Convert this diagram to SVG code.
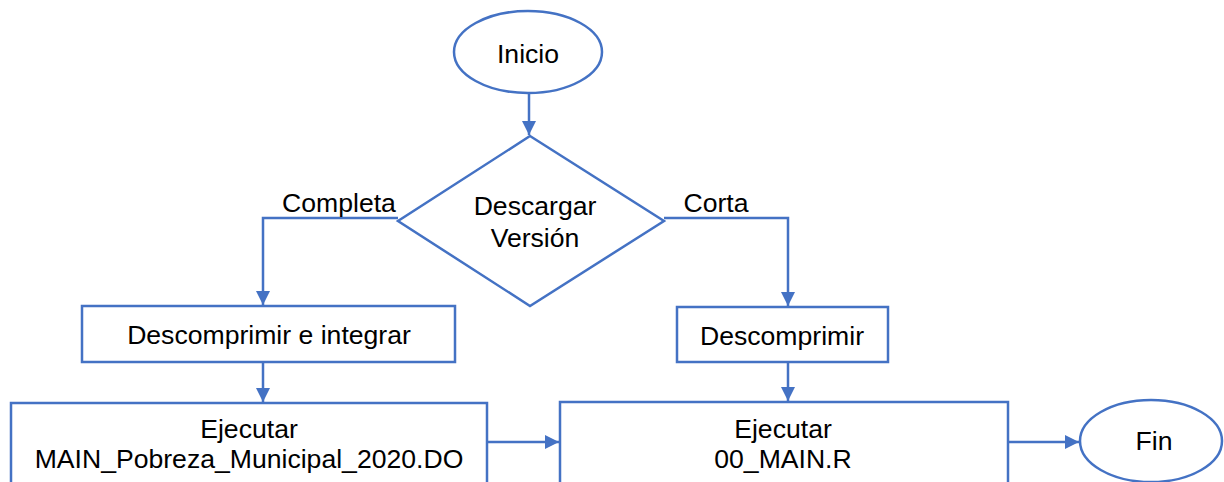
<svg xmlns="http://www.w3.org/2000/svg" width="1224" height="482" viewBox="0 0 1224 482">
<style>
.s{fill:#fff;stroke:#4472C4;stroke-width:2.5}
.c{fill:none;stroke:#4472C4;stroke-width:2.5}
text{font-family:"Liberation Sans",Arial,sans-serif;font-size:26.6px;fill:#000}
.m{text-anchor:middle}
</style>
<defs>
<marker id="ah" viewBox="0 0 10 10" refX="10" refY="5" markerWidth="14" markerHeight="14" markerUnits="userSpaceOnUse" orient="auto">
<path d="M0,0 L10,5 L0,10 Z" fill="#4472C4"/>
</marker>
</defs>
<rect width="1224" height="482" fill="#fff"/>
<g id="connectors">
<path class="c" d="M529,93 L529,135" marker-end="url(#ah)"/>
<path class="c" d="M398,218 L263,218 L263,305" marker-end="url(#ah)"/>
<path class="c" d="M664,218 L788,218 L788,306" marker-end="url(#ah)"/>
<path class="c" d="M263,362 L263,402" marker-end="url(#ah)"/>
<path class="c" d="M788,362 L788,401" marker-end="url(#ah)"/>
<path class="c" d="M487,442 L559,442" marker-end="url(#ah)"/>
<path class="c" d="M1008,442 L1079,442" marker-end="url(#ah)"/>
<text x="339" y="212" class="m">Completa</text>
<text x="716" y="212" class="m">Corta</text>
</g>
<g id="inicio">
<ellipse class="s" cx="528" cy="52" rx="74" ry="41"/>
<text x="528" y="63" class="m">Inicio</text>
</g>
<g id="decision">
<polygon class="s" points="530,136 664,221 530,306 398,221"/>
<text x="535" y="215" class="m">Descargar</text>
<text x="535" y="247" class="m">Versión</text>
</g>
<g id="descomprimir-integrar">
<rect class="s" x="82" y="306" width="373" height="56"/>
<text x="269" y="344" class="m">Descomprimir e integrar</text>
</g>
<g id="descomprimir">
<rect class="s" x="677" y="307" width="211" height="55"/>
<text x="782" y="345" class="m">Descomprimir</text>
</g>
<g id="ejecutar-do">
<rect class="s" x="11" y="403" width="476" height="100"/>
<text x="249" y="438" class="m">Ejecutar</text>
<text x="249" y="468" class="m">MAIN_Pobreza_Municipal_2020.DO</text>
</g>
<g id="ejecutar-r">
<rect class="s" x="560" y="402" width="448" height="100"/>
<text x="783" y="438" class="m">Ejecutar</text>
<text x="783" y="468" class="m">00_MAIN.R</text>
</g>
<g id="fin">
<ellipse class="s" cx="1151" cy="441" rx="71" ry="41"/>
<text x="1154" y="450" class="m">Fin</text>
</g>
</svg>
